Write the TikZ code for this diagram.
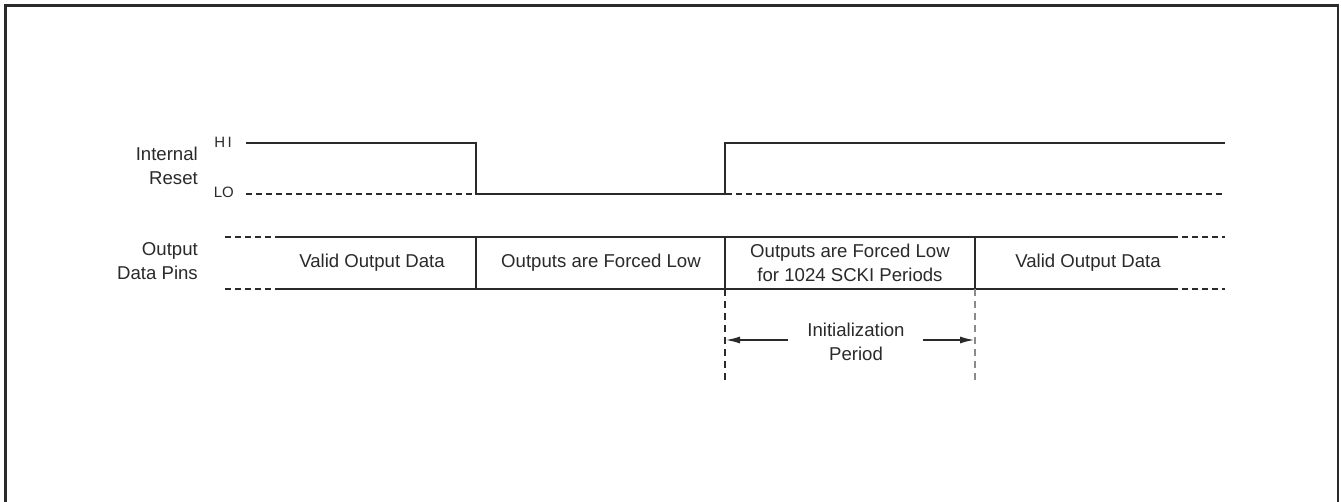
\documentclass[tikz,border=0pt]{standalone}
\usepackage{fontspec}
\setmainfont{Liberation Sans}
\usetikzlibrary{arrows.meta}
\definecolor{ink}{HTML}{2A2A2A}
\begin{document}
\begin{tikzpicture}[x=1pt,y=-1pt,
  sig/.style={draw=ink,line width=1.3pt},
  dsh/.style={draw=ink,line width=1.2pt,dash pattern=on 6pt off 4pt},
  vdsh/.style={draw=ink,line width=1.1pt,dash pattern=on 7pt off 5pt},
  lbl/.style={text=ink,font=\fontsize{18.6}{24}\selectfont,inner sep=0pt},
  small/.style={text=ink,font=\fontsize{15}{18}\selectfont,inner sep=0pt},
  arr/.style={draw=ink,line width=1.3pt,-{Latex[length=14pt,width=7pt]}}]
\useasboundingbox (0,0) rectangle (1341,502);
\fill[white] (0,0) rectangle (1341,502);
% frame
\draw[ink,line width=2.5pt] (5.5,502) -- (5.5,5.5) -- (1338,5.5) -- (1338,502);
% labels
\node[lbl,align=right,anchor=east] (ir) at (198,166) {Internal\\Reset};
\node[lbl,align=right,anchor=east] (odp) at (198,261) {Output\\Data Pins};
\node[small,anchor=east] (hi) at (232,142) {H\hspace{2.5pt}I};
\node[small,anchor=east] (lo) at (234,192) {LO};
% coordinates
\coordinate (h0) at (246,143);
\coordinate (h1) at (476,143);
\coordinate (l1) at (476,194);
\coordinate (l2) at (725,194);
\coordinate (h2) at (725,143);
\coordinate (h3) at (1225,143);
\coordinate (l0) at (246,194);
\coordinate (l3) at (1225,194);
% reset signal
\draw[dsh] (l0) -- (l3);
\draw[sig] (h0) -- (h1) -- (l1) -- (l2) -- (h2) -- (h3);
% bus
\coordinate (bt0) at (225,237); \coordinate (bt1) at (275,237);
\coordinate (bt2) at (1172,237); \coordinate (bt3) at (1225,237);
\coordinate (bb0) at (225,289); \coordinate (bb1) at (275,289);
\coordinate (bb2) at (1172,289); \coordinate (bb3) at (1225,289);
\draw[dsh] (bt0) -- (bt1);
\draw[dsh,line width=1.6pt] (bb0) -- (bb1);
\draw[dsh] (bt2) -- (bt3);
\draw[dsh,line width=1.6pt] (bb2) -- (bb3);
\draw[sig] (bt1) -- (bt2);
\draw[sig] (bb1) -- (bb2);
\coordinate (s1t) at (476,237); \coordinate (s1b) at (476,289);
\coordinate (s2t) at (725,237); \coordinate (s2b) at (725,289);
\coordinate (s3t) at (975,237); \coordinate (s3b) at (975,289);
\draw[sig] (s1t) -- (s1b);
\draw[sig] (s2t) -- (s2b);
\draw[sig] (s3t) -- (s3b);
\node[lbl] (v1) at (372,263) {Valid Output Data};
\node[lbl] (f1) at (601,263) {Outputs are Forced Low};
\node[lbl,align=center] (f2) at (850,263) {Outputs are Forced Low\\for 1024 SCKI Periods};
\node[lbl] (v2) at (1088,263) {Valid Output Data};
% initialization period
\coordinate (d2) at (725,383);
\coordinate (d3) at (975,383);
\draw[vdsh] (s2b) -- (d2);
\draw[vdsh,draw=ink!55] (s3b) -- (d3);
\node[lbl,align=center] (ip) at (856,342) {Initialization\\Period};
\coordinate (aL0) at (788,340); \coordinate (aL1) at (726,340);
\coordinate (aR0) at (923,340); \coordinate (aR1) at (974,340);
\draw[arr] (aL0) -- (aL1);
\draw[arr] (aR0) -- (aR1);
\end{tikzpicture}
\end{document}
